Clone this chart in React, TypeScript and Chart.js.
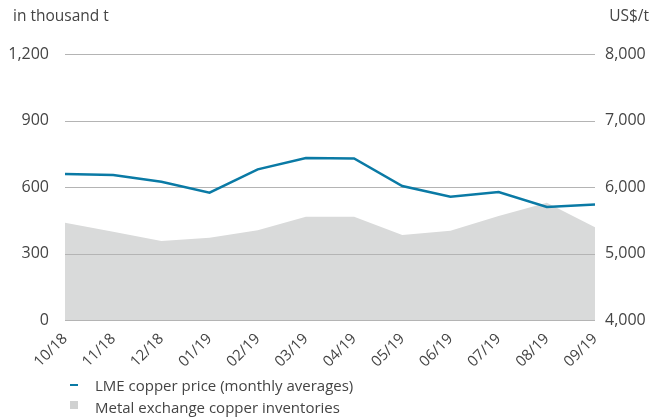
import React, { useEffect, useRef } from "react";
import { Chart, registerables } from "chart.js";

Chart.register(...registerables);

const categories = ["10/18", "11/18", "12/18", "01/19", "02/19", "03/19", "04/19", "05/19", "06/19", "07/19", "08/19", "09/19"];
const copperPrice = [6195, 6180, 6080, 5915, 6265, 6435, 6430, 6015, 5855, 5925, 5700, 5735];
const inventories = [439, 398, 356, 371, 405, 466, 466, 383, 403, 469, 529, 418];
const leftTitle = "in thousand t";
const rightTitle = "US$/t";
const legendLabels = ["LME copper price (monthly averages)", "Metal exchange copper inventories"];

const LINE = "#0a7aa5";
const AREA = "#d9dada";
const GRID = "#b4b4b4";
const TEXT = "#444444";
const FONT = "'Open Sans', 'Noto Sans', sans-serif";

export default function App() {
  const ref = useRef<HTMLCanvasElement>(null);
  useEffect(() => {
    document.body.style.margin = "0";
    const gridOverArea = {
      id: "gridOverArea",
      afterDatasetDraw(chart: any, args: any) {
        if (args.index !== 1) return;
        const y = chart.scales.y;
        const { left, right } = chart.chartArea;
        const ctx = chart.ctx;
        ctx.save();
        ctx.strokeStyle = GRID;
        ctx.lineWidth = 1;
        y.ticks.forEach((t: any) => {
          const py = Math.round(y.getPixelForValue(t.value)) + 0.5;
          ctx.beginPath();
          ctx.moveTo(left, py);
          ctx.lineTo(right, py);
          ctx.stroke();
        });
        ctx.restore();
      },
    };
    const chart = new Chart(ref.current!, {
      type: "line",
      data: {
        labels: categories,
        datasets: [
          {
            label: legendLabels[0],
            data: copperPrice,
            yAxisID: "y2",
            borderColor: LINE,
            borderWidth: 2.5,
            pointRadius: 0,
            tension: 0,
            fill: false,
            order: 0,
          },
          {
            label: legendLabels[1],
            data: inventories,
            yAxisID: "y",
            borderWidth: 0,
            borderColor: AREA,
            backgroundColor: AREA,
            pointRadius: 0,
            tension: 0,
            fill: "origin",
            order: 1,
          },
        ],
      },
      options: {
        animation: false,
        responsive: false,
        maintainAspectRatio: false,
        layout: { padding: { top: 54, bottom: 46, left: 0, right: 0 } },
        plugins: { legend: { display: false }, tooltip: { enabled: false } },
        scales: {
          x: {
            offset: false,
            grid: { display: false },
            border: { display: false },
            ticks: {
              color: TEXT,
              font: { family: FONT, size: 15 },
              minRotation: 45,
              maxRotation: 45,
              padding: 2,
            },
            afterFit(s: any) { s.height = 53; },
          },
          y: {
            position: "left",
            min: 0,
            max: 1200,
            grid: { display: false, drawTicks: false },
            border: { display: false },
            ticks: {
              stepSize: 300,
              color: TEXT,
              font: { family: FONT, size: 16 },
              padding: 16,
              callback: (v: any) => Number(v).toLocaleString("en-US"),
            },
            afterFit(s: any) { s.width = 65; },
          },
          y2: {
            position: "right",
            min: 4000,
            max: 8000,
            grid: { display: false, drawTicks: false },
            border: { display: false },
            ticks: {
              stepSize: 1000,
              color: TEXT,
              font: { family: FONT, size: 16 },
              padding: 10,
              callback: (v: any) => Number(v).toLocaleString("en-US"),
            },
            afterFit(s: any) { s.width = 67; },
          },
        },
      },
      plugins: [gridOverArea],
    });
    return () => chart.destroy();
  }, []);

  const txt: React.CSSProperties = { position: "absolute", fontFamily: FONT, fontSize: 15, color: TEXT, lineHeight: "18px", whiteSpace: "nowrap" };
  return (
    <div style={{ position: "relative", width: 662, height: 419, background: "#fff" }}>
      <canvas ref={ref} width={662} height={419} style={{ position: "absolute", left: 0, top: 0, width: 662, height: 419 }} />
      <div style={{ ...txt, fontSize: 15.5, left: 13, top: 6 }}>{leftTitle}</div>
      <div style={{ ...txt, fontSize: 15.5, right: 13, top: 6 }}>{rightTitle}</div>
      <div style={{ position: "absolute", left: 70, top: 384, width: 8, height: 2, background: LINE }} />
      <div style={{ ...txt, left: 95, top: 376 }}>{legendLabels[0]}</div>
      <div style={{ position: "absolute", left: 70, top: 401, width: 8, height: 8, background: "#d0d1d1" }} />
      <div style={{ ...txt, left: 95, top: 398 }}>{legendLabels[1]}</div>
    </div>
  );
}
